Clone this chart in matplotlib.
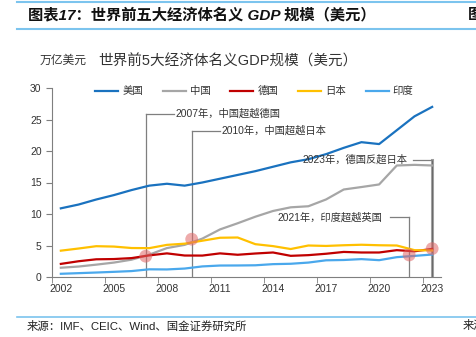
import matplotlib.pyplot as plt
from matplotlib.lines import Line2D

plt.rcParams['font.family'] = ['Liberation Sans', 'Noto Sans CJK SC']
plt.rcParams['axes.unicode_minus'] = False

years = list(range(2002, 2024))
us = [10.9, 11.5, 12.3, 13.0, 13.8, 14.5, 14.8, 14.5, 15.0, 15.6, 16.2,
      16.8, 17.5, 18.2, 18.7, 19.5, 20.5, 21.4, 21.1, 23.3, 25.5, 27.0]
china = [1.47, 1.66, 1.96, 2.29, 2.75, 3.55, 4.59, 5.1, 6.09, 7.55, 8.53,
         9.57, 10.48, 11.06, 11.23, 12.31, 13.89, 14.28, 14.69, 17.7, 17.8, 17.7]
germany = [2.08, 2.5, 2.81, 2.85, 3.0, 3.43, 3.75, 3.41, 3.4, 3.75, 3.53,
           3.73, 3.89, 3.36, 3.47, 3.69, 3.98, 3.89, 3.89, 4.26, 4.08, 4.46]
japan = [4.18, 4.52, 4.89, 4.83, 4.6, 4.58, 5.1, 5.29, 5.76, 6.23, 6.27,
         5.21, 4.9, 4.44, 5.0, 4.93, 5.04, 5.12, 5.04, 5.0, 4.26, 4.21]
india = [0.51, 0.61, 0.71, 0.82, 0.94, 1.22, 1.2, 1.34, 1.68, 1.82, 1.83,
         1.86, 2.04, 2.1, 2.29, 2.65, 2.7, 2.84, 2.67, 3.15, 3.35, 3.57]
names = ['美国', '中国', '德国', '日本', '印度']
colors = ['#1a72bf', '#a6a6a6', '#c00000', '#ffc000', '#4aa8ec']

tick_years = [2002, 2005, 2008, 2011, 2014, 2017, 2020, 2023]

# milestone markers and their notes
events_x = [2006.8, 2009.4, 2021.7, 2023.0]
events_y = [3.3, 6.0, 3.5, 4.5]
notes = ['2007年，中国超越德国', '2010年，中国超越日本',
         '2021年，印度超越英国', '2023年，德国反超日本']
note_y = [25.9, 23.2, 9.5, 18.6]

fig = plt.figure(figsize=(4.76, 3.37), dpi=100)
ax = fig.add_axes([52 / 476, 1 - 277 / 337, 389 / 476, 189 / 337])

for series, name, c in zip([us, china, germany, japan, india], names, colors):
    ax.plot(years, series, color=c, lw=1.6, label=name, zorder=3)

ax.scatter(events_x, events_y, s=85, color='#e06666', alpha=0.55,
           edgecolor='none', zorder=4)

note_font = dict(fontsize=7.4, color='#333333', va='center',
                 family=['Liberation Sans', 'Noto Sans CJK SC'])
lc = '#7f7f7f'
# 2007 and 2010: line up, then right to the text
for i in range(2):
    x, top = events_x[i], note_y[i]
    ax.plot([x, x], [0, top], color=lc, lw=0.9, zorder=2)
    ax.plot([x, x + 1.6], [top, top], color=lc, lw=0.9, zorder=2)
    ax.text(x + 1.7, top, notes[i], ha='left', **note_font)
# 2021 and 2023: text on the left, line across then down
ax.plot([2021.7, 2021.7], [0, note_y[2]], color=lc, lw=0.9, zorder=2)
ax.plot([2020.6, 2021.7], [note_y[2], note_y[2]], color=lc, lw=0.9, zorder=2)
ax.text(2020.2, note_y[2], notes[2], ha='right', **note_font)
ax.plot([2023.0, 2023.0], [0, note_y[3]], color='#a0a0a0', lw=2.2, zorder=2)
ax.plot([2023.0, 2023.0], [0, note_y[3]], color='#606060', lw=0.6, zorder=2)
ax.plot([2021.9, 2023.0], [note_y[3], note_y[3]], color=lc, lw=0.9, zorder=2)
ax.text(2021.6, note_y[3], notes[3], ha='right', **note_font)

ax.set_xlim(2001.5, 2023.5)
ax.set_ylim(0, 30)
ax.set_yticks(range(0, 31, 5))
ax.set_xticks(tick_years)
ax.set_xticklabels([str(y) for y in tick_years])
ax.set_xticks([y - 0.5 for y in tick_years], minor=True)
ax.tick_params(axis='x', which='major', length=0, labelsize=7.5, pad=5,
               colors='#333333')
ax.tick_params(axis='x', which='minor', length=4, color='#7f7f7f')
ax.tick_params(axis='y', length=4, labelsize=7.5, color='#7f7f7f',
               labelcolor='#333333')
for s in ['top', 'right']:
    ax.spines[s].set_visible(False)
ax.spines['left'].set_color('#7f7f7f')
ax.spines['bottom'].set_color('#7f7f7f')

leg = ax.legend(loc='upper center', bbox_to_anchor=(0.52, 1.06), ncol=5,
                frameon=False, fontsize=7.5, handlelength=2.2,
                columnspacing=1.9, handletextpad=0.4)
for t in leg.get_texts():
    t.set_color('#333333')

# page header, sub heading and source
band = '#7cc4ee'
fig.add_artist(Line2D([17 / 476, 1], [1 - 2 / 337] * 2, color=band, lw=1.5))
fig.add_artist(Line2D([17 / 476, 1], [1 - 29 / 337] * 2, color=band, lw=1.5))
fig.add_artist(Line2D([17 / 476, 1], [1 - 317 / 337] * 2, color=band, lw=1.2))
fig.text(28 / 476, 1 - 15 / 337, '图表17：世界前五大经济体名义 GDP 规模（美元）',
         fontsize=11, fontweight='bold', style='italic', va='center',
         color='#111111')
fig.text(468 / 476, 1 - 15 / 337, '图', fontsize=11, fontweight='bold',
         va='center', color='#111111')
fig.text(40 / 476, 1 - 61 / 337, '万亿美元', fontsize=8.5, va='center',
         color='#333333')
fig.text(98 / 476, 1 - 61 / 337, '世界前5大经济体名义GDP规模（美元）',
         fontsize=10.5, va='center', color='#333333')
fig.text(27 / 476, 1 - 326 / 337, '来源：IMF、CEIC、Wind、国金证券研究所',
         fontsize=8.2, va='center', color='#222222')
fig.text(463 / 476, 1 - 326 / 337, '来源', fontsize=8.2, va='center',
         color='#222222')

fig.savefig('out.png', dpi=100)
